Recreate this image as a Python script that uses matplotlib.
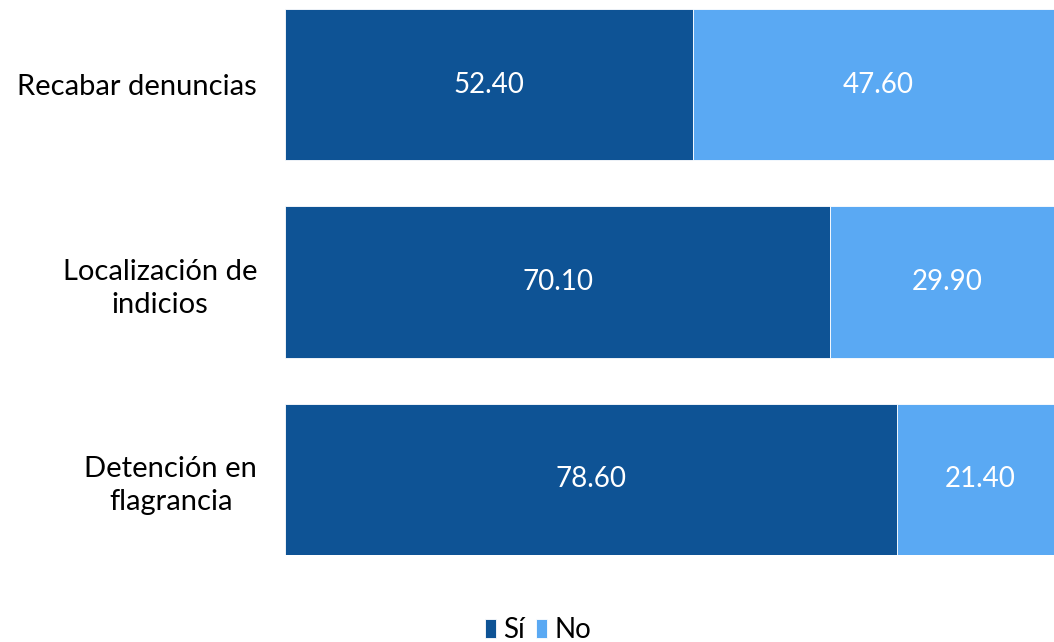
import matplotlib.pyplot as plt
import numpy as np

# Data
categories = ['Recabar denuncias', 'Localización de\nindicios', 'Detención en\nflagrancia']
si_values = [52.40, 70.10, 78.60]
no_values = [47.60, 29.90, 21.40]
series_names = ['Sí', 'No']

dark_blue = '#0E5395'
light_blue = '#5AA9F3'

plt.rcParams['font.family'] = ['Lato', 'DejaVu Sans']

fig = plt.figure(figsize=(10.54, 6.42), dpi=100)
# the plot area runs a little past the right edge of the figure
ax = fig.add_axes([285 / 1054, 87 / 642, 778 / 1054, 546 / 642])

y = np.arange(len(categories))
bar_h = 0.766

ax.barh(y, si_values, height=bar_h, color=dark_blue, edgecolor='white', linewidth=0.6, label=series_names[0])
ax.barh(y, no_values, left=si_values, height=bar_h, color=light_blue, edgecolor='white', linewidth=0.6, label=series_names[1])

for i in range(len(categories)):
    ax.text(si_values[i] / 2, y[i], f'{si_values[i]:.2f}', ha='center', va='center',
            color='white', fontsize=20)
    ax.text(si_values[i] + no_values[i] / 2, y[i], f'{no_values[i]:.2f}', ha='center', va='center',
            color='white', fontsize=20)

ax.set_xlim(0, 100)
ax.set_ylim(len(categories) - 1 + bar_h / 2, -bar_h / 2)
ax.set_yticks(y)
ax.set_yticklabels(categories, fontsize=21, multialignment='center', linespacing=1.35)
ax.tick_params(axis='y', length=0, pad=20)
ax.set_xticks([])
for s in ax.spines.values():
    s.set_visible(False)

fig.legend(loc='center', bbox_to_anchor=(538 / 1054, 1 - 630 / 642), ncol=2, frameon=False,
           fontsize=20, handlelength=0.4, handleheight=0.7, handletextpad=0.25, columnspacing=0.4)

plt.savefig('out.png', dpi=100, facecolor='white')
